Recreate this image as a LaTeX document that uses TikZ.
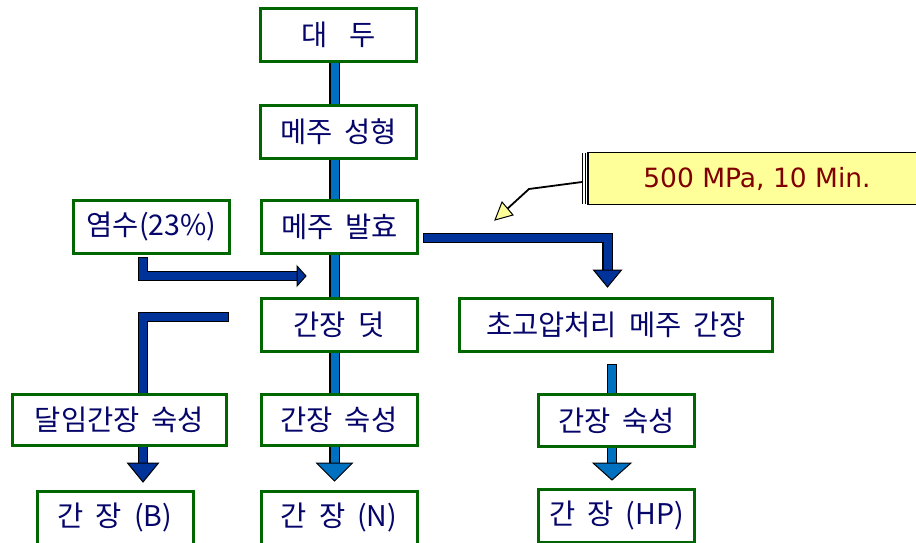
\documentclass[tikz,border=0pt]{standalone}
\usepackage{fontspec}
\setmainfont{Noto Sans CJK KR}
\newfontfamily\notefont{DejaVu Sans}
\usetikzlibrary{calc}
\pgfdeclarelayer{bg}
\pgfsetlayers{bg,main}
\definecolor{boxgreen}{HTML}{006600}
\definecolor{txtnavy}{HTML}{05056A}
\definecolor{lblue}{HTML}{0070C0}
\definecolor{dblue}{HTML}{003399}
\definecolor{noteyel}{HTML}{FFFF99}
\definecolor{notered}{HTML}{800000}
\tikzset{
  box/.style={draw=boxgreen, line width=3pt, fill=white, minimum width=156pt, minimum height=53pt,
    text=txtnavy, font=\fontsize{28.5}{30}\selectfont, inner sep=0pt},
  fat/.style={draw=#1, line width=8pt, line cap=rect, line join=miter,
    preaction={draw=black, line width=10.5pt, line cap=rect, line join=miter}},
  headtri/.style={fill=#1, draw=black, line width=1pt, line join=miter},
}
\newcommand\wsp{\hspace{0.42em}}
\begin{document}
\begin{tikzpicture}[x=1pt,y=-1pt]
\useasboundingbox (0,0) rectangle (916,543);
% boxes
\node[box] (daedu) at (338.5,35) {대\hspace{0.75em}두};
\node[box] (seong) at (338.5,131.5) {메주\wsp{}성형};
\node[box] (balhyo) at (339.5,227) {메주\wsp{}발효};
\node[box] (yeom) at (151.5,227) {염수(23\%)};
\node[box] (deot) at (339,324.5) {간장\wsp{}덧};
\node[box, minimum width=214pt, minimum height=51pt] (dalim) at (119.5,420) {달임간장\wsp{}숙성};
\node[box, minimum height=51pt] (sukN) at (339,420) {간장\wsp{}숙성};
\node[box] (ganB) at (115,518) {간\wsp{}장\wsp{}(B)};
\node[box] (ganN) at (339,518) {간\wsp{}장\wsp{}(N)};
\node[box, minimum width=313pt] (hp) at (616,324.5) {초고압처리\wsp{}메주\wsp{}간장};
\node[box, minimum height=52pt] (sukHP) at (616.5,420.5) {간장\wsp{}숙성};
\node[box] (ganHP) at (616.5,516) {간\wsp{}장\wsp{}(HP)};
% note
\node[draw=black, line width=1.5pt, fill=noteyel, minimum width=338pt, minimum height=52pt,
  inner sep=0pt, text=notered, font=\notefont\fontsize{26.5}{28}\selectfont] (note) at (757,178.5) {500 MPa, 10 Min.};
\coordinate (nl1) at (582.5,153);
\coordinate (nl2) at (582.5,204);
\draw[line width=1.3pt] (nl1) -- (nl2);
\draw[line width=1.3pt] ($(nl1)+(3,0)$) -- ($(nl2)+(3,0)$);
\coordinate (cA) at (582,182);
\coordinate (cB) at (529,189);
\coordinate (cC) at (506,210);
\draw[line width=1.8pt] (cA) -- (cB) -- (cC);
\draw[headtri=noteyel] (495,220) -- (502,202) -- (513,215) -- cycle;
% connectors
\begin{pgfonlayer}{bg}
  % main spine
  \coordinate (s0) at (334.5,60);
  \coordinate (s1) at (334.5,459);
  \draw[fat=lblue] (s0) -- (s1);
  \draw[headtri=lblue] (316.5,463) -- (352.5,463) -- (334.5,481) -- cycle;
  % 염수 -> spine
  \coordinate (y0) at (143,262);
  \coordinate (y1) at (293,276);
  \draw[fat=dblue] (y0) |- (y1);
  \draw[headtri=dblue] (297,266) -- (306,276) -- (297,286) -- cycle;
  % left elbow to 달임간장
  \coordinate (l0) at (224,317);
  \coordinate (l1) at (143,459);
  \draw[fat=dblue] (l0) -| (l1);
  \draw[headtri=dblue] (127.5,463) -- (158.5,463) -- (143,482) -- cycle;
  % right elbow to 초고압
  \coordinate (r0) at (428,238);
  \coordinate (r1) at (607.5,266);
  \draw[fat=dblue] (r0) -| (r1);
  \draw[headtri=dblue] (593.5,270) -- (621.5,270) -- (607.5,287) -- cycle;
  % HP chain
  \coordinate (h0) at (612,369);
  \coordinate (h1) at (612,459);
  \draw[fat=lblue] (h0) -- (h1);
  \draw[headtri=lblue] (593,463) -- (631,463) -- (612,480) -- cycle;
\end{pgfonlayer}
\end{tikzpicture}
\end{document}
